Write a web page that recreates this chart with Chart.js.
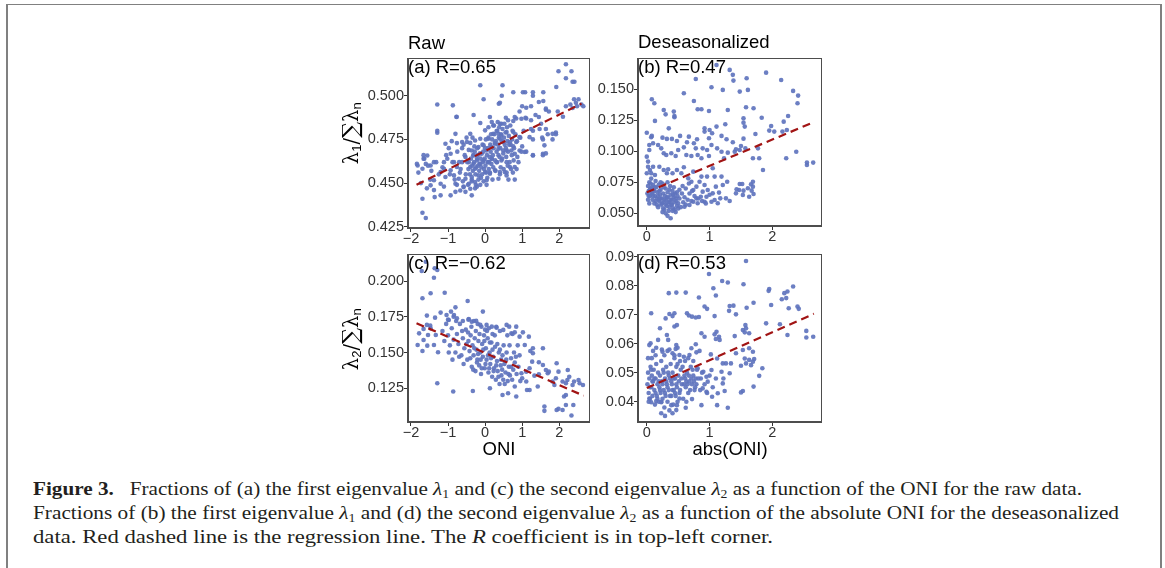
<!DOCTYPE html>
<html>
<head>
<meta charset="utf-8">
<script src="https://cdn.jsdelivr.net/npm/chart.js@4.4.0/dist/chart.umd.min.js"></script>
<style>
  html,body{margin:0;padding:0;background:#fff;}
  body{width:1165px;height:568px;position:relative;overflow:hidden;font-family:"Liberation Sans",Arial,sans-serif;}
  canvas{position:absolute;}
  .frame{position:absolute;left:6px;top:4px;width:1152px;height:600px;border-left:2px solid #808080;border-top:1px solid #808080;border-right:2px solid #808080;}
  .lbl{position:absolute;font-size:18.5px;color:#000;white-space:nowrap;line-height:1;}
  .ytitle{position:absolute;font-family:"DejaVu Serif",serif;font-size:19.5px;color:#000;white-space:nowrap;transform-origin:center center;line-height:1;}
  .ytitle .sig{font-size:22.5px;}
  .ytitle sub{font-family:"Liberation Sans",sans-serif;font-size:13px;vertical-align:-3px;line-height:0;}
  .cap{position:absolute;left:33px;font-family:"Liberation Serif",serif;font-size:18.5px;color:#231f20;white-space:nowrap;line-height:24px;transform-origin:0 0;}
  .cap sub{font-size:12px;vertical-align:-3px;line-height:0;}
</style>
</head>
<body>
<div class="frame"></div>

<script>
// ---------- DATA ----------
const xTicksONI = [-2, -1, 0, 1, 2];
const xTicksAbs = [0, 1, 2];
const yTicksA = [0.425, 0.450, 0.475, 0.500];
const yTicksB = [0.050, 0.075, 0.100, 0.125, 0.150];
const yTicksC = [0.125, 0.150, 0.175, 0.200];
const yTicksD = [0.04, 0.05, 0.06, 0.07, 0.08, 0.09];

const labelA = "(a) R=0.65";
const labelB = "(b) R=0.47";
const labelC = "(c) R=\u22120.62";
const labelD = "(d) R=0.53";

// regression line end points
const fitA = [[-1.85, 0.449], [2.60, 0.4955]];
const fitB = [[0.00, 0.067], [2.66, 0.1235]];
const fitC = [[-1.85, 0.1705], [2.66, 0.1198]];
const fitD = [[0.00, 0.0447], [2.66, 0.0703]];

// (a) raw, lambda1 fraction vs ONI
const rawL1 = [
[2.18,0.518],[1.98,0.514],[2.33,0.514],[2.18,0.510],[2.36,0.508],[2.41,0.508],[1.92,0.505],[1.57,0.502],[1.29,0.502],[1.29,0.500],[1.02,0.502],[1.08,0.502],[0.76,0.502],[0.47,0.506],[0.45,0.500],[-0.13,0.506],[-1.29,0.495],[0.40,0.496],[-0.04,0.498],
[2.30,0.495],[2.36,0.493],[2.40,0.498],[2.52,0.498],[2.60,0.495],[2.48,0.494],[2.45,0.496],[2.65,0.494],
[1.96,0.491],[2.10,0.488],[1.64,0.492],[1.72,0.491],[1.57,0.497],[1.36,0.489],[1.24,0.494],[1.00,0.494],[0.93,0.491],[0.84,0.487],[1.11,0.487],[-0.77,0.488],[-0.31,0.489],
[-1.29,0.480],[1.91,0.479],[1.47,0.481],[1.56,0.475],[1.82,0.475],[1.24,0.481],[1.29,0.475],[1.64,0.467],[1.29,0.466],[1.11,0.468],[0.98,0.468],[0.76,0.471],[0.87,0.465],[1.56,0.466],
[-1.84,0.461],[-1.80,0.456],[-1.66,0.466],[-1.66,0.464],[-1.60,0.461],[-1.54,0.460],[-1.73,0.450],[-1.48,0.452],[-1.57,0.447],[-1.69,0.441],[-1.69,0.433],[-1.60,0.430],[-1.38,0.446],[-1.36,0.442],[-1.20,0.443],[-1.11,0.448],[-0.93,0.443],[-0.76,0.449],[-0.80,0.445],[-0.53,0.445],[-0.58,0.448],[-0.36,0.451],[-0.22,0.448],
[-0.87,0.4945],[0.37,0.4954],[1.11,0.4931],[1.45,0.4964],[1.64,0.4926],[2.18,0.494],
[-0.77,0.4878],[-0.13,0.4844],[0.13,0.4878],[0.18,0.485],[0.40,0.484],[0.56,0.4874],[0.62,0.486],[0.76,0.4855],[0.80,0.4878],[0.98,0.4868],[1.09,0.4874],[1.24,0.486],[1.45,0.4878],[1.51,0.484],[1.64,0.481],[1.91,0.478],[1.69,0.478],[1.54,0.476],[1.29,0.480],[1.20,0.4763],
[-1.29,0.4788],[-1.07,0.4725],[-0.80,0.4782],[-0.76,0.4729],[-0.62,0.4735],[-0.49,0.4735],[-0.40,0.4782],[-0.27,0.4744],[-0.13,0.4754],[0.00,0.4802],[0.09,0.482],[0.22,0.483],[0.31,0.4798],[0.36,0.4782],[0.44,0.4773],[0.40,0.4754],[0.49,0.4735],[0.22,0.4782],[0.09,0.4754],[-0.04,0.4716],[-0.18,0.4706],[-0.36,0.4687],[-0.31,0.4658],[-0.22,0.4639],[-0.09,0.4668],[0.04,0.4687],[0.18,0.4706],[0.27,0.4725],[0.36,0.4697],[0.49,0.4687],[0.58,0.4687],[0.71,0.4687],[0.80,0.4668],[0.93,0.4687],[1.07,0.4678],[0.67,0.4735],[0.84,0.4735],[0.93,0.4763],[0.76,0.4792],[0.58,0.4792],
[-1.56,0.4658],[-1.64,0.4639],[-1.82,0.4601],[-1.69,0.4582],[-1.47,0.4601],[-1.38,0.462],[-1.11,0.462],[-1.02,0.4639],[-0.93,0.4668],[-0.84,0.462],[-1.11,0.4582],[-1.20,0.4563],[-0.93,0.4573],[-0.76,0.4592],[-0.62,0.462],[-0.53,0.4649],[-0.44,0.462],[-0.40,0.4592],[-0.31,0.4611],[-0.27,0.4582],[-0.13,0.4611],[-0.04,0.463],[0.09,0.462],[0.18,0.4639],[0.31,0.462],[0.44,0.463],[0.58,0.462],[0.67,0.4592],[0.80,0.4592],[0.53,0.4563],[0.40,0.4563],[0.27,0.4573],[0.13,0.4554],[0.00,0.4563],[-0.18,0.4544],[-0.36,0.4535],[-0.53,0.4525],[-0.71,0.4525],[-0.84,0.4544],[-1.07,0.4535],[-1.38,0.4516],[-1.47,0.4487],[-1.20,0.4496],[-0.80,0.4496],[-0.58,0.4477],[-0.44,0.4496],[-0.27,0.4506],[-0.40,0.4468],[-0.67,0.4458],[-0.36,0.443],[0.04,0.4516],[0.36,0.4525],[0.58,0.4544],[1.29,0.4658],[1.56,0.4668],[1.60,0.4716],[1.82,0.4782],
[-0.62,0.470],[-0.55,0.466],[-0.48,0.462],[-0.45,0.458],[-0.41,0.455],[-0.38,0.464],[-0.35,0.460],[-0.33,0.457],[-0.30,0.462],[-0.28,0.468],[-0.26,0.455],[-0.24,0.459],[-0.22,0.463],[-0.20,0.466],[-0.18,0.452],[-0.16,0.457],[-0.15,0.461],[-0.12,0.464],[-0.10,0.459],[-0.08,0.455],[-0.06,0.462],[-0.05,0.468],[-0.03,0.458],[-0.01,0.464],[0.01,0.460],[0.03,0.456],[0.05,0.466],[0.07,0.462],[0.08,0.470],[0.10,0.458],[0.12,0.465],[0.14,0.472],[0.15,0.468],[0.17,0.461],[0.19,0.475],[0.21,0.466],[0.23,0.470],[0.25,0.478],[0.27,0.463],[0.29,0.474],[0.31,0.468],[0.33,0.480],[0.35,0.472],[0.37,0.476],[0.39,0.465],[0.41,0.470],[0.43,0.478],[0.45,0.474],[0.47,0.481],[0.49,0.467],[0.51,0.476],[0.53,0.472],[0.55,0.479],[0.57,0.465],[0.60,0.474],[0.62,0.468],[0.64,0.477],[0.66,0.462],[0.69,0.472],[0.72,0.466],[0.74,0.480],[0.77,0.463],
[-0.70,0.462],[-0.66,0.458],[-0.58,0.472],[-0.52,0.455],[-0.44,0.469],[-0.40,0.473],[-0.36,0.452],[-0.32,0.466],[-0.29,0.471],[-0.25,0.449],[-0.21,0.470],[-0.19,0.460],[-0.14,0.467],[-0.11,0.453],[-0.07,0.472],[-0.04,0.451],[0.00,0.470],[0.02,0.475],[0.06,0.453],[0.09,0.476],[0.11,0.462],[0.13,0.456],[0.16,0.478],[0.18,0.464],[0.22,0.459],[0.24,0.483],[0.26,0.473],[0.28,0.457],[0.32,0.462],[0.34,0.485],[0.36,0.466],[0.38,0.482],[0.42,0.459],[0.44,0.484],[0.46,0.464],[0.50,0.458],[0.52,0.484],[0.56,0.470],[0.59,0.482],[0.61,0.460],[0.65,0.472],[0.68,0.483],[0.70,0.458],[0.73,0.475],[0.78,0.470],[0.82,0.478],[0.86,0.474],[0.90,0.462],[0.95,0.476],[1.00,0.471],[1.04,0.480],[-0.95,0.455],[-0.88,0.462],[-0.82,0.452],[-0.75,0.468],[-0.68,0.456],[-1.05,0.466],[-0.98,0.470],[-0.90,0.474],[-1.15,0.459],[-1.25,0.455],[-1.32,0.462],[-1.45,0.457],[-0.60,0.451],[-0.50,0.476],[-0.46,0.449],[-0.34,0.476],[-0.27,0.447],[-0.13,0.449],[0.04,0.449],[0.20,0.452],[0.40,0.455],[0.58,0.456],[0.63,0.452],[0.75,0.456],[0.80,0.452],[0.85,0.458]
];

// (b) deseasonalized, lambda1 fraction vs abs(ONI)
const desL1 = [
[1.11,0.1696],[1.32,0.1656],[1.37,0.1616],[1.38,0.157],[0.78,0.1583],[1.59,0.1589],[1.90,0.1634],[2.14,0.1575],[2.33,0.1487],[2.41,0.1449],[2.40,0.1387],[1.48,0.1481],[1.61,0.1495],[1.21,0.1495],[1.03,0.1516],[0.59,0.1468],
[0.08,0.1419],[0.12,0.1387],[0.27,0.1333],[0.43,0.132],[0.44,0.1285],[0.44,0.1274],[0.30,0.1298],[0.13,0.1245],[0.75,0.1406],[0.81,0.1339],[0.87,0.1339],[0.99,0.1325],[1.29,0.1333],[1.58,0.1355],[1.70,0.1347],[1.83,0.1271],[2.25,0.1285],[2.18,0.1239],[1.54,0.1266],[1.54,0.1231],[1.56,0.1199],[1.25,0.1218],[1.11,0.1199],[0.92,0.1185],[1.00,0.1172],[0.92,0.1159],[0.35,0.1185],[0.00,0.115],[0.08,0.1124],[0.07,0.1113],[0.25,0.111],[0.32,0.110],[0.40,0.110],[0.48,0.1083],[0.53,0.1124],[0.67,0.1118],[0.64,0.1073],[0.75,0.1065],[0.80,0.1097],[0.99,0.1105],[1.04,0.1145],[1.19,0.1124],[1.27,0.1097],[1.37,0.1073],[1.54,0.1102],[1.73,0.114],[1.98,0.1204],[2.03,0.1159],[2.16,0.1159],[2.23,0.1172],[1.95,0.1167],
[0.04,0.1051],[0.04,0.1011],[0.10,0.1065],[0.18,0.1051],[0.23,0.1024],[0.27,0.0984],[0.31,0.097],[0.39,0.0984],[0.46,0.0962],[0.50,0.1011],[0.59,0.1032],[0.63,0.097],[0.71,0.0962],[0.78,0.1024],[0.81,0.097],[0.87,0.0944],[0.89,0.1024],[0.96,0.1011],[0.99,0.0962],[1.03,0.1051],[1.12,0.1024],[1.19,0.0997],[1.23,0.0944],[1.29,0.0989],[1.40,0.0997],[1.42,0.1016],[1.48,0.1011],[1.57,0.1024],[1.50,0.1043],[1.69,0.0944],[1.79,0.0944],[1.77,0.1024],[2.38,0.0997],[2.22,0.0944],[2.55,0.0909],[2.55,0.089],[2.65,0.0909],[1.85,0.0849],
[0.00,0.0957],[0.02,0.0917],[0.02,0.0876],[0.05,0.0849],[0.00,0.0823],[0.10,0.0876],[0.07,0.0823],[0.13,0.0809],
[0.20,0.0876],[0.27,0.0849],[0.34,0.0855],[0.32,0.0823],[0.41,0.0823],[0.48,0.0849],[0.55,0.0823],[0.59,0.0871],[0.66,0.0782],[0.74,0.0836],[0.71,0.0755],[0.87,0.0796],[0.96,0.0796],[1.05,0.0863],[1.08,0.0796],[1.19,0.0796],[1.28,0.0755],[1.21,0.0728],[1.10,0.0715],[0.92,0.0728],[0.84,0.0755],[0.79,0.0715],[0.74,0.0688],[0.89,0.0675],[0.97,0.0688],[1.05,0.0661],[1.15,0.0667],[1.17,0.0621],[1.08,0.0608],[0.95,0.0634],[0.86,0.0634],[0.79,0.0621],[0.74,0.0594],[0.81,0.0581],[0.92,0.0594],[1.03,0.0594],[1.13,0.0581],[1.26,0.0621],[1.42,0.0661],[1.48,0.0737],[1.52,0.0737],[1.47,0.0688],[1.54,0.0683],[1.61,0.0702],[1.66,0.0734],[1.69,0.0715],[1.67,0.0683],[1.70,0.0656],[1.63,0.0634],[1.53,0.0648],[1.69,0.0755],[1.43,0.0694],[1.32,0.0599],[0.68,0.0567],[0.60,0.0554],
[0.02,0.072],[0.03,0.068],[0.04,0.075],[0.05,0.064],[0.06,0.070],[0.07,0.078],[0.08,0.066],[0.09,0.061],[0.10,0.073],[0.11,0.069],[0.12,0.058],[0.13,0.064],[0.14,0.076],[0.15,0.071],[0.16,0.062],[0.17,0.067],[0.18,0.055],[0.19,0.073],[0.20,0.060],[0.21,0.065],[0.22,0.069],[0.23,0.057],[0.24,0.062],[0.25,0.074],[0.26,0.066],[0.27,0.059],[0.28,0.053],[0.29,0.064],[0.30,0.070],[0.31,0.061],[0.32,0.056],[0.33,0.067],[0.34,0.063],[0.35,0.052],[0.36,0.059],[0.37,0.072],[0.38,0.065],[0.39,0.057],[0.40,0.061],[0.41,0.068],[0.42,0.054],[0.43,0.063],[0.44,0.059],[0.45,0.066],[0.46,0.051],[0.47,0.060],[0.48,0.056],[0.49,0.064],[0.50,0.058],[0.52,0.062],[0.54,0.055],[0.56,0.066],[0.58,0.059],[0.60,0.063],[0.62,0.057],[0.65,0.061],[0.68,0.066],[0.71,0.060],
[0.01,0.066],[0.02,0.061],[0.04,0.058],[0.06,0.074],[0.08,0.071],[0.10,0.064],[0.12,0.068],[0.14,0.060],[0.16,0.057],[0.18,0.064],[0.20,0.068],[0.22,0.062],[0.24,0.058],[0.26,0.054],[0.28,0.061],[0.30,0.057],[0.32,0.063],[0.34,0.059],[0.36,0.055],[0.38,0.061],[0.40,0.057],[0.42,0.065],[0.44,0.053],[0.46,0.062],[0.48,0.067],[0.50,0.054],[0.30,0.050],[0.33,0.048],[0.38,0.046],[0.25,0.051],[0.41,0.052],[0.19,0.061],[0.22,0.075],[0.27,0.071],[0.33,0.075],[0.36,0.069],[0.43,0.071],[0.52,0.069],[0.57,0.072],[0.62,0.070],[0.67,0.074],[0.72,0.068],[0.76,0.064],[0.82,0.062],[0.88,0.060],[0.94,0.058],[1.00,0.065],[0.13,0.071],[0.09,0.066],[0.05,0.069],[0.03,0.064]
];

// (c) raw, lambda2 fraction vs ONI
const rawL2 = [
[-1.60,0.2135],[-1.71,0.207],[-1.36,0.2089],[-1.29,0.2077],[-1.38,0.2023],[-1.47,0.1914],[-1.09,0.1918],[-1.69,0.1879],[-0.47,0.186],[-0.80,0.1816],[-0.06,0.1786],[-1.57,0.1758],[-1.20,0.1779],[-1.04,0.1762],[-0.92,0.1786],[-0.84,0.1762],[-0.98,0.1727],[-0.76,0.1739],[-1.35,0.1744],[-0.44,0.1734],[-0.36,0.1716],[-0.24,0.1721],[-0.13,0.1693],[0.04,0.1693],[0.18,0.1681],[0.31,0.1674],[0.58,0.1693],[0.65,0.1681],[0.84,0.1681],[1.02,0.1641],[1.18,0.1611],[0.71,0.1634],[0.49,0.1658],[0.80,0.1641],[0.93,0.1611],[1.07,0.1553],[1.29,0.153],[1.56,0.153],[1.22,0.1511],[1.29,0.1495],[1.27,0.1436],[1.45,0.1432],[1.56,0.1413],[1.64,0.1378],[1.69,0.1355],[1.72,0.1366],[1.45,0.1348],[1.33,0.1338],[1.20,0.139],[1.11,0.1366],[0.98,0.1355],[1.00,0.132],[1.11,0.1297],[1.20,0.1238],[1.13,0.1238],[0.80,0.1262],[0.62,0.1215],[0.84,0.1192],[0.47,0.1203],[0.13,0.125],[-0.33,0.1231],[-1.29,0.1285],[-0.86,0.1227],[1.93,0.1425],[1.98,0.1366],[1.91,0.132],[1.82,0.1297],[1.87,0.1273],[2.09,0.1297],[2.18,0.1285],[2.22,0.1308],[2.23,0.1378],[2.27,0.1331],[2.36,0.1273],[2.40,0.1297],[2.52,0.1308],[2.55,0.1285],[2.64,0.1273],[2.18,0.1203],[2.13,0.1192],[2.38,0.1133],[2.33,0.1059],[2.18,0.1133],[2.09,0.1098],[1.93,0.1098],[1.98,0.1106],[1.60,0.1122],[1.60,0.1092],[1.42,0.1262],
[-1.82,0.1553],[-1.66,0.1588],[-1.54,0.1623],[-1.47,0.1669],[-1.66,0.1665],[-1.78,0.1634],[-1.57,0.1693],[-1.33,0.1623],[-1.38,0.1553],[-1.56,0.1548],[-1.69,0.1511],[-1.27,0.1502],[-1.48,0.1688],
[-1.15,0.165],[-1.10,0.158],[-1.05,0.170],[-1.00,0.162],[-0.95,0.155],[-0.90,0.167],[-0.85,0.159],[-0.80,0.150],[-0.76,0.163],[-0.72,0.156],[-0.68,0.170],[-0.64,0.148],[-0.60,0.160],[-0.56,0.153],[-0.52,0.166],[-0.48,0.145],[-0.45,0.158],[-0.42,0.151],[-0.39,0.162],[-0.36,0.140],[-0.34,0.155],[-0.31,0.148],[-0.28,0.160],[-0.26,0.137],[-0.23,0.152],[-0.21,0.145],[-0.18,0.158],[-0.16,0.141],[-0.13,0.150],[-0.11,0.135],[-0.08,0.156],[-0.06,0.147],[-0.03,0.162],[-0.01,0.139],[0.02,0.153],[0.04,0.145],[0.07,0.160],[0.09,0.136],[0.12,0.150],[0.14,0.142],[0.17,0.157],[0.19,0.133],[0.22,0.147],[0.24,0.139],[0.27,0.154],[0.29,0.131],[0.32,0.144],[0.34,0.137],[0.37,0.150],[0.39,0.128],[0.42,0.141],[0.44,0.134],[0.47,0.148],[0.49,0.131],[0.52,0.142],[0.55,0.136],[0.58,0.150],[0.61,0.130],[0.64,0.140],[0.67,0.134],[0.70,0.146],[0.73,0.131],[0.76,0.138],[0.80,0.143],[0.85,0.135],[0.90,0.140],[0.95,0.130],
[-0.98,0.150],[-0.88,0.145],[-0.78,0.172],[-0.70,0.147],[-0.62,0.165],[-0.58,0.142],[-0.50,0.156],[-0.46,0.164],[-0.40,0.146],[-0.37,0.168],[-0.32,0.138],[-0.29,0.153],[-0.25,0.165],[-0.22,0.143],[-0.19,0.149],[-0.15,0.163],[-0.12,0.145],[-0.09,0.139],[-0.05,0.152],[-0.02,0.158],[0.01,0.142],[0.05,0.165],[0.08,0.148],[0.11,0.139],[0.13,0.157],[0.16,0.146],[0.20,0.152],[0.23,0.137],[0.26,0.162],[0.30,0.141],[0.33,0.156],[0.36,0.133],[0.40,0.152],[0.43,0.145],[0.46,0.138],[0.50,0.155],[0.53,0.128],[0.57,0.145],[0.60,0.162],[0.63,0.135],[0.66,0.155],[0.70,0.140],[0.74,0.163],[0.78,0.150],[0.83,0.147],[0.88,0.155],[0.93,0.148],[0.40,0.165],[0.30,0.168],[0.20,0.163],[0.10,0.167],[0.00,0.166],[-0.10,0.168],[-0.20,0.170],[-0.30,0.172],[-0.45,0.173],[-0.60,0.172],[-0.85,0.175],[-1.00,0.173]
];

// (d) deseasonalized, lambda2 fraction vs abs(ONI)
const desL2 = [
[1.58,0.0885],[0.99,0.084],[1.20,0.0816],[1.29,0.0811],[1.06,0.0791],[1.10,0.0766],[1.54,0.0805],[0.35,0.0774],[0.47,0.0776],[0.62,0.0776],[0.83,0.0759],[0.07,0.0705],[0.30,0.0687],[0.36,0.0702],[0.41,0.0695],[0.44,0.0705],[0.44,0.0659],[0.48,0.0664],[0.64,0.0705],[0.67,0.0697],[0.72,0.0693],[0.78,0.069],[0.83,0.0692],[0.92,0.0728],[0.96,0.072],[1.08,0.0695],[1.32,0.073],[1.31,0.0713],[1.42,0.0701],[1.38,0.0731],[1.59,0.0724],[1.70,0.0741],[1.94,0.0782],[1.95,0.0788],[1.98,0.0733],[2.15,0.0753],[2.19,0.0774],[2.24,0.078],[2.33,0.0797],[2.22,0.0757],[2.26,0.0722],[2.40,0.0728],[2.42,0.072],[1.90,0.067],[2.12,0.0667],[2.24,0.063],[2.54,0.0644],[2.54,0.0621],[2.65,0.0624],[1.84,0.0515],[1.79,0.0489],[1.70,0.0452],[1.53,0.0437],[1.50,0.0432],[1.29,0.0379],[1.12,0.0388],[0.87,0.0388],[0.62,0.0379],[0.47,0.0371],[0.41,0.036],[0.29,0.0351],[0.23,0.036],[0.39,0.0388],[0.48,0.0388],[0.52,0.0411],[0.63,0.040],[0.72,0.0409],[0.07,0.0398],[0.04,0.0411],[0.15,0.0402],[0.23,0.0398],
[1.58,0.0653],[1.56,0.0639],[1.57,0.0664],[1.53,0.0647],[1.63,0.0636],[1.40,0.0626],[1.11,0.0641],[1.08,0.0632],[1.15,0.0624],[1.10,0.0616],[1.16,0.0613],[0.87,0.0636],[0.92,0.0624],[0.78,0.0598],[0.71,0.0584],[0.32,0.063],[0.34,0.0613],[0.21,0.0653],[0.18,0.0613],[0.47,0.0595],[0.49,0.0586],[0.15,0.0586],[0.06,0.0601],[0.04,0.0595],[0.10,0.0575],[0.25,0.0572],[0.33,0.0575],[0.41,0.0567],[0.46,0.0582],[0.52,0.0561],[0.59,0.0555],[0.68,0.0561],[0.79,0.057],[0.84,0.0575],[1.02,0.0563],[1.12,0.0549],[1.21,0.0532],[1.26,0.0532],[1.42,0.0567],[1.53,0.0578],[1.63,0.0584],[1.69,0.0572],[1.63,0.0544],[1.69,0.0538],[1.71,0.0547],[1.66,0.0526],[1.58,0.0532],[1.56,0.0549],[1.50,0.0524],[1.34,0.0532],[1.32,0.0498],[1.22,0.048],[1.19,0.0503],[1.21,0.0463],[1.24,0.0437],[1.13,0.0429],[1.04,0.0417],[0.95,0.0434],[0.89,0.0446],[0.86,0.048],[0.95,0.0486],[1.03,0.0509],[1.10,0.048],[0.97,0.0469],[0.90,0.0503],[0.81,0.0515],
[0.01,0.046],[0.02,0.050],[0.03,0.043],[0.04,0.048],[0.05,0.041],[0.06,0.052],[0.07,0.045],[0.08,0.049],[0.09,0.042],[0.10,0.047],[0.11,0.051],[0.12,0.044],[0.13,0.039],[0.14,0.048],[0.15,0.053],[0.16,0.042],[0.17,0.046],[0.18,0.050],[0.19,0.040],[0.20,0.045],[0.21,0.049],[0.22,0.043],[0.23,0.054],[0.24,0.047],[0.25,0.041],[0.26,0.051],[0.27,0.044],[0.28,0.038],[0.29,0.048],[0.30,0.042],[0.31,0.052],[0.32,0.046],[0.33,0.040],[0.34,0.050],[0.35,0.044],[0.36,0.037],[0.37,0.048],[0.38,0.053],[0.39,0.042],[0.40,0.046],[0.41,0.050],[0.42,0.039],[0.43,0.044],[0.44,0.055],[0.45,0.048],[0.46,0.042],[0.47,0.052],[0.48,0.045],[0.49,0.040],[0.50,0.049],[0.52,0.043],[0.54,0.051],[0.56,0.046],[0.58,0.041],[0.60,0.049],[0.62,0.045],[0.64,0.050],[0.66,0.043],[0.68,0.047],[0.70,0.052],[0.72,0.046],[0.74,0.049],[0.76,0.044],[0.78,0.048],[0.80,0.051],
[0.03,0.040],[0.05,0.045],[0.07,0.051],[0.09,0.047],[0.12,0.048],[0.14,0.043],[0.17,0.041],[0.19,0.047],[0.21,0.044],[0.23,0.040],[0.25,0.046],[0.27,0.050],[0.29,0.043],[0.31,0.047],[0.33,0.045],[0.35,0.049],[0.37,0.042],[0.39,0.047],[0.41,0.044],[0.43,0.048],[0.45,0.043],[0.47,0.046],[0.49,0.053],[0.51,0.047],[0.53,0.044],[0.55,0.048],[0.57,0.052],[0.59,0.046],[0.61,0.048],[0.63,0.047],[0.65,0.046],[0.67,0.049],[0.69,0.044],[0.71,0.048],[0.73,0.051],[0.75,0.047],[0.77,0.045],[0.79,0.046],[0.82,0.048],[0.85,0.044],[0.88,0.050],[0.92,0.046],[0.96,0.043],[1.00,0.049],[1.05,0.045],[0.24,0.058],[0.28,0.056],[0.36,0.058],[0.44,0.056],[0.14,0.056],[0.08,0.055],[0.53,0.054],[0.61,0.054],[0.66,0.055],[0.74,0.054],[0.02,0.055]
];

// ---------- LAYOUT ----------
const POINT_COLOR = "rgba(96,116,190,0.92)";
const LINE_COLOR = "#a11414";
const PAD_L = 70, PAD_T = 12, PAD_R = 10, PAD_B = 30;

const panels = [
  { box:[408, 58, 590, 228], xr:[-2.08, 2.83], yr:[0.4243, 0.5216], xt:xTicksONI, yt:yTicksA, dec:3, pts:rawL1, fit:fitA, label:labelA },
  { box:[638, 58, 822, 226], xr:[-0.14, 2.79], yr:[0.0398, 0.1752], xt:xTicksAbs, yt:yTicksB, dec:3, pts:desL1, fit:fitB, label:labelB },
  { box:[408, 254, 590, 422], xr:[-2.08, 2.83], yr:[0.1014, 0.2189], xt:xTicksONI, yt:yTicksC, dec:3, pts:rawL2, fit:fitC, label:labelC },
  { box:[638, 254, 822, 422], xr:[-0.14, 2.79], yr:[0.0330, 0.0909], xt:xTicksAbs, yt:yTicksD, dec:2, pts:desL2, fit:fitD, label:labelD }
];

const boxPlugin = {
  id: 'boxPlugin',
  afterDraw(chart) {
    const a = chart.chartArea, ctx = chart.ctx;
    ctx.save();
    ctx.strokeStyle = '#4d4d4d';
    ctx.lineWidth = 1;
    ctx.strokeRect(a.left + 0.5, a.top + 0.5, a.right - a.left - 1, a.bottom - a.top - 1);
    ctx.lineWidth = 2;
    ctx.beginPath();
    ctx.moveTo(a.left, a.top); ctx.lineTo(a.left, a.bottom); ctx.lineTo(a.right, a.bottom);
    ctx.stroke();
    ctx.restore();
  }
};

function fmt(v, dec) {
  const s = Number(v).toFixed(dec);
  return s.replace('-', '\u2212');
}

panels.forEach((p) => {
  const [l, t, r, b] = p.box;
  const cv = document.createElement('canvas');
  const W = (r - l) + PAD_L + PAD_R, H = (b - t) + PAD_T + PAD_B;
  cv.width = W; cv.height = H;
  cv.style.left = (l - PAD_L) + 'px';
  cv.style.top = (t - PAD_T) + 'px';
  cv.style.width = W + 'px'; cv.style.height = H + 'px';
  document.body.appendChild(cv);

  const tickFont = { family: '"Liberation Sans", Arial, sans-serif', size: 14.5 };
  new Chart(cv.getContext('2d'), {
    type: 'scatter',
    data: {
      datasets: [
        { type: 'line', data: p.fit.map(([x, y]) => ({ x, y })), borderColor: LINE_COLOR, borderWidth: 2.2,
          borderDash: [8, 5], pointRadius: 0, fill: false, order: 0, tension: 0 },
        { data: p.pts.map(([x, y]) => ({ x, y })), backgroundColor: POINT_COLOR, borderWidth: 0,
          pointRadius: 2.3, order: 1 }
      ]
    },
    options: {
      responsive: false, animation: false, devicePixelRatio: 1,
      layout: { padding: { left: 0, top: PAD_T, right: PAD_R, bottom: 0 } },
      plugins: { legend: { display: false }, tooltip: { enabled: false } },
      scales: {
        x: {
          type: 'linear', min: p.xr[0], max: p.xr[1],
          afterBuildTicks: (ax) => { ax.ticks = p.xt.map(v => ({ value: v })); },
          afterFit: (ax) => { ax.height = PAD_B; },
          grid: { drawOnChartArea: false, drawTicks: true, tickLength: 4, color: '#333', lineWidth: 1 },
          border: { display: false },
          ticks: { font: tickFont, color: '#333', padding: -2, maxRotation: 0, autoSkip: false,
                   callback: (v) => fmt(v, 0) }
        },
        y: {
          type: 'linear', min: p.yr[0], max: p.yr[1],
          afterBuildTicks: (ax) => { ax.ticks = p.yt.map(v => ({ value: v })); },
          afterFit: (ax) => { ax.width = PAD_L; },
          grid: { drawOnChartArea: false, drawTicks: true, tickLength: 4, color: '#333', lineWidth: 1 },
          border: { display: false },
          ticks: { font: tickFont, color: '#333', padding: 0, autoSkip: false,
                   callback: (v) => fmt(v, p.dec) }
        }
      }
    },
    plugins: [boxPlugin]
  });

  const d = document.createElement('div');
  d.className = 'lbl';
  d.textContent = p.label;
  d.style.left = l + 'px';
  d.style.top = (t + 0) + 'px';
  document.body.appendChild(d);
});

function addText(html, cls, left, top) {
  const d = document.createElement('div');
  d.className = cls; d.innerHTML = html;
  d.style.left = left + 'px'; d.style.top = top + 'px';
  document.body.appendChild(d);
  return d;
}
// column titles
addText('Raw', 'lbl', 408, 34);
addText('Deseasonalized', 'lbl', 638, 33);
// x axis titles (centred on panel)
const t1 = addText('ONI', 'lbl', 0, 440);
t1.style.left = (499 - t1.offsetWidth / 2) + 'px';
const t2 = addText('abs(ONI)', 'lbl', 0, 440);
t2.style.left = (730 - t2.offsetWidth / 2) + 'px';
// y axis titles
function yTitle(html, cx, cy) {
  const d = addText(html, 'ytitle', 0, 0);
  const w = d.offsetWidth, h = d.offsetHeight;
  d.style.left = (cx - w / 2) + 'px';
  d.style.top = (cy - h / 2) + 'px';
  d.style.transform = 'rotate(-90deg)';
}
yTitle('\u03bb<sub>1</sub>/<span class="sig">\u2211</span>\u03bb<sub>n</sub>', 350, 133);
yTitle('\u03bb<sub>2</sub>/<span class="sig">\u2211</span>\u03bb<sub>n</sub>', 350, 339);

// caption: one div per line, horizontally fitted to the reference line widths
const capLines = [
  ['<b>Figure 3.</b>&nbsp;&nbsp; Fractions of (a) the first eigenvalue <i>\u03bb</i><sub>1</sub> and (c) the second eigenvalue <i>\u03bb</i><sub>2</sub> as a function of the ONI for the raw data.', 477, 1049],
  ['Fractions of (b) the first eigenvalue <i>\u03bb</i><sub>1</sub> and (d) the second eigenvalue <i>\u03bb</i><sub>2</sub> as a function of the absolute ONI for the deseasonalized', 501, 1086],
  ['data. Red dashed line is the regression line. The <i>R</i> coefficient is in top-left corner.', 525, 740]
];
capLines.forEach(([html, top, target]) => {
  const d = addText(html, 'cap', 33, top);
  const w = d.getBoundingClientRect().width;
  d.style.transform = 'scaleX(' + (target / w) + ')';
});
</script>
</body>
</html>
